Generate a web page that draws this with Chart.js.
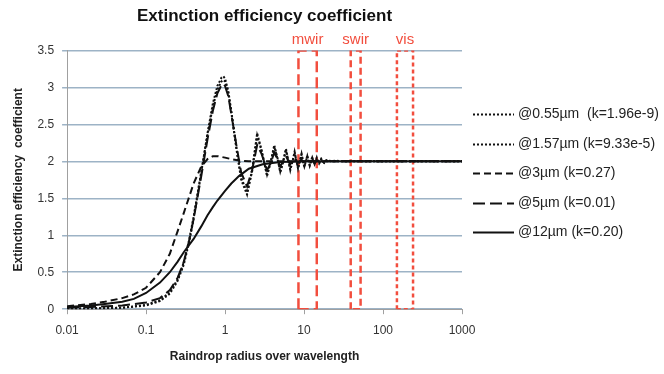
<!DOCTYPE html>
<html>
<head>
<meta charset="utf-8">
<script src="https://cdn.jsdelivr.net/npm/chart.js@4.4.1/dist/chart.umd.min.js"></script>
<style>
  html, body { margin: 0; padding: 0; background: #fff; }
  #wrap { width: 664px; height: 374px; }
</style>
</head>
<body>
<div id="wrap"><canvas id="myChart" width="664" height="374"></canvas></div>
<script>
// radius / wavelength sample points
const radiusFine = [0.01, 0.02, 0.05, 0.1, 0.15, 0.2, 0.25, 0.3, 0.35, 0.4,
  0.5, 0.6, 0.7, 0.8, 0.9, 0.95, 1.0, 1.1, 1.2, 1.4,
  1.6, 1.9, 2.2, 2.55, 2.9, 3.4, 3.8, 4.2, 4.6, 5.0,
  5.45, 5.9, 6.3, 6.7, 7.15, 7.6, 8.0, 8.4, 8.85, 9.3,
  9.7, 10.1, 10.55, 11.0, 11.4, 11.8, 12.25, 12.7, 13.15, 13.6,
  14.05, 14.5, 15.0, 15.5, 16.0, 16.5, 17.2, 18.0, 19, 20,
  22, 25, 30, 40, 60, 100, 200, 500, 1000];
const radiusSmooth = [0.01, 0.02, 0.03, 0.05, 0.07, 0.1, 0.15, 0.2, 0.25, 0.3,
  0.4, 0.5, 0.6, 0.7, 0.8, 1, 1.2, 1.5, 2, 3, 5, 10, 100, 1000];

// extinction efficiency per wavelength
const q055 = [0.01, 0.01, 0.02, 0.05, 0.11, 0.21, 0.38, 0.6, 0.9, 1.22,
  1.85, 2.38, 2.78, 3.02, 3.13, 3.15, 3.12, 2.95, 2.68, 2.15,
  1.75, 1.55, 1.88, 2.38, 2.15, 1.8, 2.0, 2.22, 2.05, 1.85,
  2.0, 2.17, 2.02, 1.88, 2.0, 2.13, 2.01, 1.9, 2.0, 2.1,
  2.0, 1.92, 2.0, 2.08, 2.0, 1.94, 2.0, 2.06, 2.0, 1.96,
  2.0, 2.05, 2.0, 1.97, 2.0, 2.03, 2.0, 1.98, 2.01, 2.02,
  2.0, 2.01, 2.0, 2.0, 2.0, 2.0, 2.0, 2.0, 2.0];
const q157 = [0.01, 0.01, 0.02, 0.06, 0.12, 0.23, 0.4, 0.63, 0.93, 1.25,
  1.86, 2.36, 2.74, 2.97, 3.08, 3.1, 3.08, 2.92, 2.66, 2.17,
  1.78, 1.58, 1.86, 2.35, 2.14, 1.82, 2.0, 2.2, 2.04, 1.86,
  2.0, 2.15, 2.02, 1.89, 2.0, 2.12, 2.01, 1.91, 2.0, 2.09,
  2.0, 1.93, 2.0, 2.07, 2.0, 1.95, 2.0, 2.05, 2.0, 1.96,
  2.0, 2.04, 2.0, 1.97, 2.0, 2.03, 2.0, 1.98, 2.01, 2.01,
  2.0, 2.0, 2.0, 2.0, 2.0, 2.0, 2.0, 2.0, 2.0];
const q5 = [0.02, 0.03, 0.05, 0.09, 0.15, 0.26, 0.42, 0.64, 0.92, 1.22,
  1.8, 2.3, 2.68, 2.92, 3.03, 3.05, 3.02, 2.88, 2.64, 2.2,
  1.85, 1.66, 1.88, 2.22, 2.1, 1.88, 1.98, 2.12, 2.03, 1.93,
  2.0, 2.07, 2.01, 1.96, 2.0, 2.04, 2.0, 1.98, 2.0, 2.02,
  2.0, 1.99, 2.0, 2.01, 2.0, 2.0, 2.0, 2.0, 2.0, 2.0,
  2.0, 2.0, 2.0, 2.0, 2.0, 2.0, 2.0, 2.0, 2.0, 2.0,
  2.0, 2.0, 2.0, 2.0, 2.0, 2.0, 2.0, 2.0, 2.0];
const q3 = [0.04, 0.07, 0.1, 0.15, 0.2, 0.29, 0.5, 0.75, 1.05, 1.3,
  1.7, 1.93, 2.03, 2.07, 2.07, 2.05, 2.03, 2.01, 2.0, 2.0, 2.0, 2.0, 2.0, 2.0];
const q12 = [0.03, 0.05, 0.07, 0.1, 0.14, 0.22, 0.36, 0.5, 0.64, 0.77,
  0.95, 1.12, 1.27, 1.38, 1.47, 1.6, 1.7, 1.8, 1.9, 1.96, 1.99, 2.0, 2.0, 2.0];

const seriesNames = ['@0.55µm  (k=1.96e-9)', '@1.57µm (k=9.33e-5)', '@3µm (k=0.27)', '@5µm (k=0.01)', '@12µm (k=0.20)'];

// spectral bands (red boxes)
const bandNames = ['mwir', 'swir', 'vis'];
const bandLo = [8.5, 39, 150];
const bandHi = [14.5, 52, 240];
const bandTop = 3.5;
const bandColor = 'rgb(242, 78, 62)';

const xTicks = [0.01, 0.1, 1, 10, 100, 1000];

function pts(xs, ys) {
  return xs.map((v, i) => ({ x: v, y: ys[i] }));
}
function box(i) {
  return [
    { x: bandLo[i], y: 0 }, { x: bandLo[i], y: bandTop },
    { x: bandHi[i], y: bandTop }, { x: bandHi[i], y: 0 }, { x: bandLo[i], y: 0 }
  ];
}

const lineStyle = { borderColor: '#111', pointRadius: 0, tension: 0, fill: false };

const data = {
  datasets: [
    { ...lineStyle, label: seriesNames[0], data: pts(radiusFine, q055), borderWidth: 2, borderDash: [2, 2] },
    { ...lineStyle, label: seriesNames[1], data: pts(radiusFine, q157), borderWidth: 2, borderDash: [2, 2] },
    { ...lineStyle, label: seriesNames[2], data: pts(radiusSmooth, q3), borderWidth: 2, borderDash: [7, 4] },
    { ...lineStyle, label: seriesNames[3], data: pts(radiusFine, q5), borderWidth: 2, borderDash: [12, 5] },
    { ...lineStyle, label: seriesNames[4], data: pts(radiusSmooth, q12), borderWidth: 2 },
    { label: 'mwir', data: box(0), borderColor: bandColor, borderWidth: 2.5, borderDash: [11, 5], pointRadius: 0 },
    { label: 'swir', data: box(1), borderColor: bandColor, borderWidth: 2.5, borderDash: [7, 4], pointRadius: 0 },
    { label: 'vis', data: box(2), borderColor: bandColor, borderWidth: 2.5, borderDash: [4, 3], pointRadius: 0 }
  ]
};

// band names above the boxes
const bandLabels = {
  id: 'bandLabels',
  afterDraw(chart) {
    const { ctx, scales: { x, y } } = chart;
    ctx.save();
    ctx.fillStyle = bandColor;
    ctx.font = '15px "Liberation Sans"';
    ctx.textAlign = 'center';
    ctx.textBaseline = 'bottom';
    bandNames.forEach((n, i) => {
      const cx = (x.getPixelForValue(bandLo[i]) + x.getPixelForValue(bandHi[i])) / 2;
      ctx.fillText(n, cx, y.getPixelForValue(bandTop) - 3);
    });
    ctx.restore();
  }
};

// legend on the right, drawn by hand so the dashes show
const sideLegend = {
  id: 'sideLegend',
  afterDraw(chart) {
    const { ctx, chartArea } = chart;
    const x0 = chartArea.right + 11;
    const y0 = chartArea.top + 64;
    ctx.save();
    ctx.font = '14px "Liberation Sans"';
    ctx.fillStyle = '#222';
    ctx.textBaseline = 'middle';
    chart.data.datasets.slice(0, seriesNames.length).forEach((ds, i) => {
      const yy = Math.round(y0 + i * 29.5) + 0.5;
      ctx.setLineDash(ds.borderDash || []);
      ctx.lineWidth = ds.borderWidth;
      ctx.strokeStyle = ds.borderColor;
      ctx.beginPath();
      ctx.moveTo(x0, yy);
      ctx.lineTo(x0 + 41, yy);
      ctx.stroke();
      ctx.fillText(ds.label, x0 + 45, yy);
    });
    ctx.restore();
  }
};

Chart.defaults.font.family = '"Liberation Sans", Arial, sans-serif';
Chart.defaults.color = '#333';

const config = {
  type: 'line',
  data: data,
  options: {
    responsive: false,
    animation: false,
    layout: { padding: { left: 7, right: 202, top: 0, bottom: 6 } },
    plugins: {
      title: {
        display: true,
        text: 'Extinction efficiency coefficient',
        fullSize: false,
        color: '#111',
        font: { size: 17, weight: 'bold' },
        padding: { top: 6, bottom: 24 }
      },
      legend: { display: false },
      tooltip: { enabled: false }
    },
    scales: {
      x: {
        type: 'logarithmic',
        min: 0.01,
        max: 1000,
        afterBuildTicks: axis => { axis.ticks = xTicks.map(v => ({ value: v })); },
        ticks: { callback: v => String(v), autoSkip: false, maxRotation: 0, padding: 9, font: { size: 12 } },
        grid: { drawOnChartArea: false, tickLength: 5, color: '#a0a0a0' },
        border: { color: '#a0a0a0' },
        title: { display: true, text: 'Raindrop radius over wavelength', color: '#222', font: { size: 12, weight: 'bold' }, padding: { top: 3 } }
      },
      y: {
        min: 0,
        max: 3.5,
        ticks: { stepSize: 0.5, padding: 8, font: { size: 12 }, callback: v => String(v) },
        grid: { color: '#9db3c6', lineWidth: 1.5, tickLength: 5 },
        border: { color: '#a0a0a0' },
        title: { display: true, text: 'Extinction efficiency  coefficient', color: '#222', font: { size: 12, weight: 'bold' } }
      }
    }
  },
  plugins: [bandLabels, sideLegend]
};

const myChart = new Chart(document.getElementById('myChart'), config);
</script>
</body>
</html>
